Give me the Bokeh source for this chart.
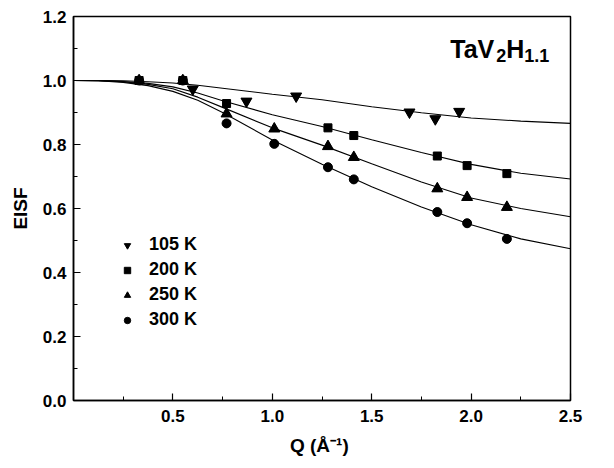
from bokeh.plotting import figure
from bokeh.models import FixedTicker, Legend, LegendItem, Label, Range1d
from bokeh.embed import file_html
from bokeh.resources import INLINE

# ---- data ----
q_105 = [0.60, 0.87, 1.12, 1.69, 1.82, 1.94]
eisf_105 = [0.973, 0.935, 0.951, 0.901, 0.880, 0.903]

q_200 = [0.33, 0.55, 0.77, 1.28, 1.41, 1.83, 1.98, 2.18]
eisf_200 = [1.0, 1.0, 0.928, 0.852, 0.828, 0.764, 0.734, 0.709]

q_250 = [0.33, 0.55, 0.77, 1.01, 1.28, 1.41, 1.83, 1.98, 2.18]
eisf_250 = [1.0, 1.0, 0.896, 0.849, 0.794, 0.760, 0.662, 0.635, 0.604]

q_300 = [0.33, 0.55, 0.77, 1.01, 1.28, 1.41, 1.83, 1.98, 2.18]
eisf_300 = [1.0, 1.0, 0.866, 0.802, 0.729, 0.691, 0.589, 0.554, 0.505]

fit_q = [0.0, 0.125, 0.25, 0.375, 0.5, 0.625, 0.75, 1.0, 1.25, 1.5, 1.75, 2.0, 2.25, 2.5]
fit_105 = [1.0, 1.0, 0.999, 0.996, 0.992, 0.985, 0.976, 0.957, 0.940, 0.918, 0.899, 0.883, 0.873, 0.866]
fit_200 = [1.0, 0.9995, 0.997, 0.991, 0.980, 0.961, 0.937, 0.893, 0.856, 0.815, 0.775, 0.738, 0.710, 0.692]
fit_250 = [1.0, 0.9995, 0.996, 0.988, 0.974, 0.948, 0.916, 0.852, 0.798, 0.740, 0.683, 0.633, 0.600, 0.574]
fit_300 = [1.0, 0.999, 0.994, 0.984, 0.966, 0.938, 0.900, 0.814, 0.738, 0.668, 0.605, 0.549, 0.505, 0.474]

labels = ["105 K", "200 K", "250 K", "300 K"]
x_ticks = [0.5, 1.0, 1.5, 2.0, 2.5]
x_minor = [0.25, 0.75, 1.25, 1.75, 2.25]
y_ticks = [0.0, 0.2, 0.4, 0.6, 0.8, 1.0, 1.2]
y_minor = [0.1, 0.3, 0.5, 0.7, 0.9, 1.1]

FONT = "Liberation Sans"

p = figure(width=614, height=468, output_backend="svg", toolbar_location=None,
           x_range=Range1d(0, 2.5), y_range=Range1d(0, 1.2),
           min_border_left=73, min_border_right=44, min_border_top=16,
           min_border_bottom=68, background_fill_color="white")
p.grid.visible = False
p.outline_line_color = "black"
p.outline_line_width = 1.5

for ax in (p.xaxis[0], p.yaxis[0]):
    ax.axis_line_color = "black"
    ax.axis_line_width = 1.5
    ax.major_tick_in = 7
    ax.major_tick_out = 0
    ax.minor_tick_in = 4
    ax.minor_tick_out = 0
    ax.major_tick_line_width = 1.2
    ax.minor_tick_line_width = 1.0
    ax.major_label_text_font = FONT
    ax.major_label_text_font_style = "bold"
    ax.major_label_text_font_size = "17px"
    ax.major_label_text_color = "black"
    ax.axis_label_text_font = FONT
    ax.axis_label_text_font_style = "bold"
    ax.axis_label_text_font_size = "19px"
    ax.axis_label_text_color = "black"

p.xaxis.ticker = FixedTicker(ticks=x_ticks, minor_ticks=x_minor)
p.yaxis.ticker = FixedTicker(ticks=y_ticks, minor_ticks=y_minor)
p.xaxis.major_label_overrides = {v: f"{v:.1f}" for v in x_ticks}
p.yaxis.major_label_overrides = {v: f"{v:.1f}" for v in y_ticks}
p.xaxis.major_label_standoff = 9
p.yaxis.major_label_standoff = 7
p.xaxis.axis_label = "Q  (Å\u207b\u00b9)"
p.yaxis.axis_label = "EISF"
p.xaxis.axis_label_standoff = 10
p.yaxis.axis_label_standoff = 9

# fitted curves
for fit in (fit_105, fit_200, fit_250, fit_300):
    p.line(fit_q, fit, line_color="black", line_width=1.1)

# smaller copies underneath, used for the key swatches
k105 = p.scatter(q_105, eisf_105, marker="inverted_triangle", size=9, color="black")
k200 = p.scatter(q_200, eisf_200, marker="square", size=6.5, color="black")
k250 = p.scatter(q_250, eisf_250, marker="triangle", size=9, color="black")
k300 = p.scatter(q_300, eisf_300, marker="circle", size=7.5, color="black")

p.scatter(q_105, eisf_105, marker="inverted_triangle", size=11, color="black")
p.scatter(q_200, eisf_200, marker="square", size=8, color="black")
p.scatter(q_250, eisf_250, marker="triangle", size=11, color="black")
p.scatter(q_300, eisf_300, marker="circle", size=9, color="black")

legend = Legend(items=[LegendItem(label=labels[0], renderers=[k105]),
                       LegendItem(label=labels[1], renderers=[k200]),
                       LegendItem(label=labels[2], renderers=[k250]),
                       LegendItem(label=labels[3], renderers=[k300])],
                location=(46, 70), orientation="vertical",
                border_line_color=None, background_fill_alpha=0,
                padding=0, margin=0, spacing=4,
                glyph_width=16, glyph_height=20, label_height=20,
                label_standoff=14,
                label_text_font=FONT, label_text_font_style="bold",
                label_text_font_size="18px", label_text_color="black")
p.add_layout(legend, "center")

# compound label TaV2H1.1
base_x, base_y = 1.895, 1.10
pieces = [("TaV", 0, 0, "25px"), ("2", 46, -7, "18px"), ("H", 56, 0, "25px"), ("1.1", 74, -7, "18px")]
for txt, dx, dy, fs in pieces:
    p.add_layout(Label(x=base_x, y=base_y, text=txt, x_offset=dx, y_offset=dy,
                       text_font=FONT, text_font_style="bold", text_font_size=fs,
                       text_color="black", text_baseline="alphabetic", text_align="left"))

open("out.html", "w").write(file_html(p, INLINE))
